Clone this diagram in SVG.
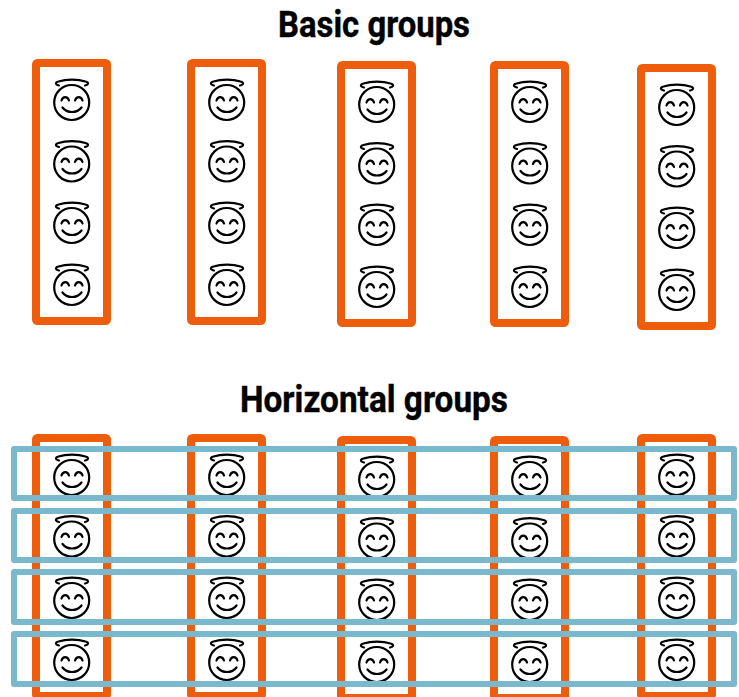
<svg xmlns="http://www.w3.org/2000/svg" xmlns:xlink="http://www.w3.org/1999/xlink" width="739" height="697" viewBox="0 0 739 697">
<style>
text{font-family:Roboto,"Liberation Sans",sans-serif;font-weight:700;font-size:36px;fill:#000;stroke:#000;stroke-width:.4;text-anchor:middle}
.o{fill:none;stroke:#ee5d0b;stroke-width:8;stroke-linejoin:round}
.b{fill:none;stroke:#79b8cd;stroke-width:6;stroke-linejoin:round}
.f{fill:none;stroke:#000;stroke-width:2.200;stroke-linecap:round}
</style>
<defs>
<g id="face" class="f">
<circle cx="-.3" cy="1.500" r="17.500"/>
<path d="M-13-15.500C-17-16.500-17-18.500-13.500-19.500C-6-22 6-22 13.500-19.500C17-18.500 17-16.500 13-15.500"/>
<path d="M-10.500-0.500C-9-5-4.500-5-3-0.500M3-0.500C4.500-5 9-5 10.500-0.500"/>
<path d="M-9.500 6.500C-5 12.500 5 12.500 9.500 6.500"/>
</g>
<g id="col">
<rect class="o" x="-36" y="-38" width="71" height="258" rx="1.500"/>
<use xlink:href="#face" y="0"/><use xlink:href="#face" y="61.500"/><use xlink:href="#face" y="123"/><use xlink:href="#face" y="185"/>
</g>
</defs>
<text x="374" y="37" textLength="192" lengthAdjust="spacingAndGlyphs">Basic groups</text>
<g id="basic-1"><use xlink:href="#col" x="72" y="101"/></g>
<g id="basic-2"><use xlink:href="#col" x="227" y="101"/></g>
<g id="basic-3"><use xlink:href="#col" x="377" y="103"/></g>
<g id="basic-4"><use xlink:href="#col" x="530" y="103"/></g>
<g id="basic-5"><use xlink:href="#col" x="677" y="106"/></g>
<text x="374" y="412" textLength="268" lengthAdjust="spacingAndGlyphs">Horizontal groups</text>
<g id="vertical-1"><use xlink:href="#col" x="72" y="476"/></g>
<g id="vertical-2"><use xlink:href="#col" x="227" y="476"/></g>
<g id="vertical-3"><use xlink:href="#col" x="377" y="478"/></g>
<g id="vertical-4"><use xlink:href="#col" x="530" y="478"/></g>
<g id="vertical-5"><use xlink:href="#col" x="677" y="476"/></g>
<g id="horizontal-1"><rect class="b" x="14" y="449" width="720" height="49"/></g>
<g id="horizontal-2"><rect class="b" x="14" y="511" width="720" height="49"/></g>
<g id="horizontal-3"><rect class="b" x="14" y="572" width="720" height="50"/></g>
<g id="horizontal-4"><rect class="b" x="14" y="634" width="720" height="50"/></g>
</svg>
